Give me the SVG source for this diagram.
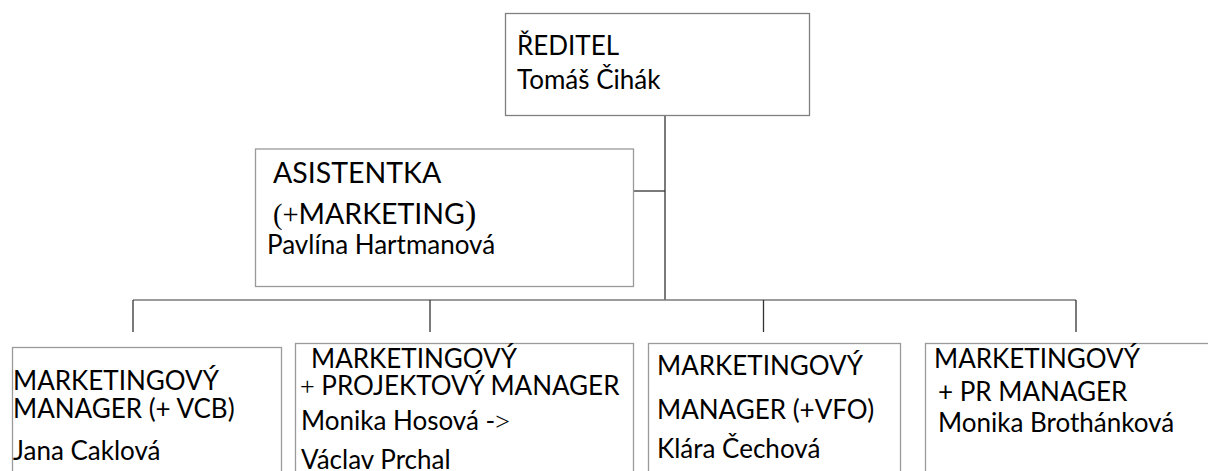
<svg xmlns="http://www.w3.org/2000/svg" width="1208" height="471" viewBox="0 0 1208 471">
<style>
.box{fill:#fff;stroke:#9a9a9a;stroke-width:1.3}
.dbox{fill:#fff;stroke:#808080;stroke-width:1.3}
.t{font-family:Lato,"Noto Sans",sans-serif;font-size:26px;fill:#000}
.big{font-size:28.5px}
.sf{font-family:"Liberation Serif",serif}
.con{stroke:#333;stroke-width:1.3;fill:none}
.bus{stroke:#7a7a7a;stroke-width:1.5;fill:none}
</style>
<rect width="1208" height="471" fill="#fff"/>
<g id="connectors">
<line class="con" x1="665" y1="115" x2="665" y2="300"/>
<line class="con" x1="634" y1="191" x2="665" y2="191"/>
<line class="bus" x1="133" y1="300" x2="1076" y2="300"/>
<line class="con" x1="133" y1="300" x2="133" y2="332"/>
<line class="con" x1="430" y1="300" x2="430" y2="332"/>
<line class="con" x1="763.5" y1="300" x2="763.5" y2="332"/>
<line class="con" x1="1076" y1="300" x2="1076" y2="332"/>
</g>
<g id="director">
<rect class="dbox" x="505.5" y="13.5" width="304" height="102"/>
<text class="t" x="517" y="55">ŘEDITEL</text>
<text class="t" x="517" y="89">Tomáš Čihák</text>
</g>
<g id="assistant">
<rect class="box" x="255.5" y="149" width="378" height="137.5"/>
<text class="t big" x="273" y="183">ASISTENTKA</text>
<text class="t big" x="273" y="224"><tspan class="sf">(+</tspan>MARKETING<tspan class="sf" font-size="34">)</tspan></text>
<text class="t" x="267" y="254">Pavlína Hartmanová</text>
</g>
<g id="manager1">
<rect class="box" x="12.5" y="347.5" width="269" height="140"/>
<text class="t" x="13" y="390">MARKETINGOVÝ</text>
<text class="t" x="13" y="418">MANAGER (+ VCB)</text>
<text class="t" x="13" y="460">Jana Caklová</text>
</g>
<g id="manager2">
<rect class="box" x="295.5" y="343.5" width="338" height="140"/>
<text class="t" x="311" y="368">MARKETINGOVÝ</text>
<text class="t" x="300" y="395"><tspan class="sf">+</tspan> PROJEKTOVÝ MANAGER</text>
<text class="t" x="301" y="430">Monika Hosová -<tspan class="sf">&gt;</tspan></text>
<text class="t" x="301" y="469">Václav Prchal</text>
</g>
<g id="manager3">
<rect class="box" x="648.5" y="343.5" width="252" height="140"/>
<text class="t" x="657" y="375">MARKETINGOVÝ</text>
<text class="t" x="657" y="419">MANAGER (+VFO)</text>
<text class="t" x="657" y="458">Klára Čechová</text>
</g>
<g id="manager4">
<rect class="box" x="925.5" y="343.5" width="300" height="140"/>
<text class="t" x="934" y="368">MARKETINGOVÝ</text>
<text class="t" x="938" y="401">+ PR MANAGER</text>
<text class="t" x="938" y="432">Monika Brothánková</text>
</g>
</svg>
